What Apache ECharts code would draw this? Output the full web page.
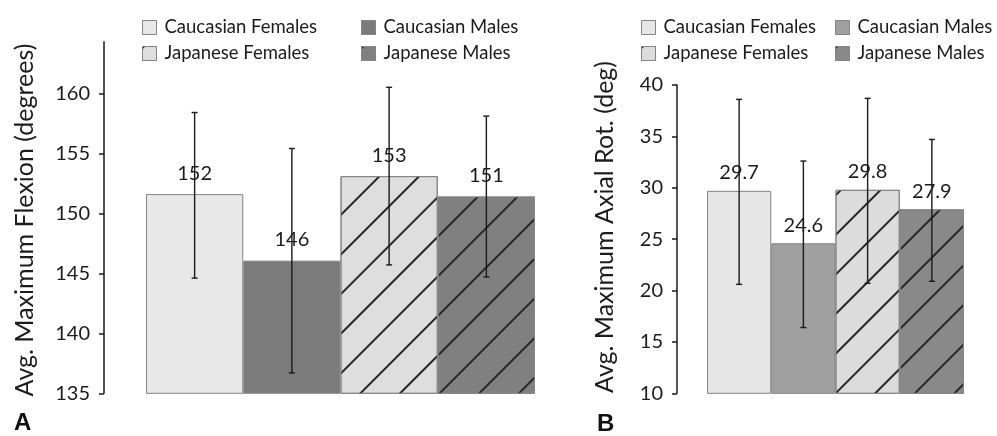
<!DOCTYPE html>
<html><head><meta charset="utf-8">
<script src="https://cdn.jsdelivr.net/npm/echarts@6/dist/echarts.min.js"></script>
<style>html,body{margin:0;padding:0;background:#fff}#c{width:997px;height:436px}</style>
</head><body><div id="c"></div>
<script>
const categories = ['Caucasian Females', 'Caucasian Males', 'Japanese Females', 'Japanese Males'];
// Panel A: flexion (degrees)
const flexMean = [151.6, 146.05, 153.1, 151.4];
const flexLow  = [144.6, 136.7, 145.7, 144.7];
const flexHigh = [158.4, 155.4, 160.5, 158.1];
// Panel B: axial rotation (deg)
const rotMean = [29.7, 24.6, 29.8, 27.9];
const rotLow  = [20.6, 16.4, 20.7, 20.9];
const rotHigh = [38.6, 32.6, 38.7, 34.7];
const flexTicks = [135, 140, 145, 150, 155, 160];
const rotTicks = [10, 15, 20, 25, 30, 35, 40];

const FONT = 'Lato';
const TXT = '#1c1c1c';
const hatch = {symbol: 'rect', symbolSize: 1, dashArrayX: [1, 0], dashArrayY: [2, 26], rotation: -Math.PI / 4, color: '#262626'};
const colorsA = ['#e8e8e8', '#7b7b7b', '#dedede', '#808080'];
const colorsB = ['#e6e6e6', '#a0a0a0', '#dcdcdc', '#898989'];
const hatched = [false, false, true, true];

function styleFor(colors, i) {
  const s = {color: colors[i], borderColor: '#858585', borderWidth: 1};
  if (hatched[i]) s.decal = hatch;
  return s;
}

function barSeries(gi, means, colors, fmt, labelDist) {
  return categories.map((name, i) => ({
    name: name, type: 'bar', xAxisIndex: gi, yAxisIndex: gi,
    barGap: '-100%', barCategoryGap: 0,
    data: means.map((v, j) => j === i ? v : '-'),
    itemStyle: styleFor(colors, i),
    label: {show: true, position: 'top', distance: labelDist, fontFamily: FONT, fontSize: 20, color: TXT,
            formatter: p => fmt(p.value)},
    emphasis: {disabled: true}, animation: false
  }));
}

function errSeries(gi, low, high) {
  return {
    type: 'custom', xAxisIndex: gi, yAxisIndex: gi, z: 5, animation: false, silent: true,
    data: categories.map((c, i) => [i, low[i], high[i]]),
    encode: {x: 0, y: [1, 2]},
    renderItem: (params, api) => {
      const lo = api.coord([api.value(0), api.value(1)]);
      const hi = api.coord([api.value(0), api.value(2)]);
      const st = {stroke: '#1a1a1a', lineWidth: 1.4};
      return {type: 'group', children: [
        {type: 'line', shape: {x1: lo[0], y1: lo[1], x2: hi[0], y2: hi[1]}, style: st},
        {type: 'line', shape: {x1: lo[0] - 3, y1: lo[1], x2: lo[0] + 3, y2: lo[1]}, style: st},
        {type: 'line', shape: {x1: hi[0] - 3, y1: hi[1], x2: hi[0] + 3, y2: hi[1]}, style: st}
      ]};
    }
  };
}

function legendItem(name, colors, i, left, top) {
  return {
    left: left, top: top, icon: 'rect', itemWidth: 14, itemHeight: 14,
    selectedMode: false,
    textStyle: {fontFamily: FONT, fontSize: 18.5, color: TXT, padding: [0, 0, 0, 3]},
    data: [{name: name, itemStyle: styleFor(colors, i)}]
  };
}

function yAxis(gi, min, max, offset, ticks) {
  return {
    type: 'value', gridIndex: gi, min: min, max: max, interval: 5, offset: offset,
    axisLine: {show: true, lineStyle: {color: '#1a1a1a', width: 1.5}},
    axisTick: {show: true, length: 5, customValues: ticks, lineStyle: {color: '#1a1a1a', width: 1.5}},
    axisLabel: {margin: 14, customValues: ticks, fontFamily: FONT, fontSize: 20, color: TXT},
    splitLine: {show: false}
  };
}

const option = {
  backgroundColor: '#fff',
  animation: false,
  grid: [
    {left: 146, width: 389, top: 41.7, height: 351.6},
    {left: 707, width: 257, top: 85, height: 308.3}
  ],
  xAxis: [
    {type: 'category', gridIndex: 0, data: categories, show: false},
    {type: 'category', gridIndex: 1, data: categories, show: false}
  ],
  yAxis: [yAxis(0, flexTicks[0], 164.3, 42, flexTicks),
          yAxis(1, rotTicks[0], rotTicks[rotTicks.length - 1], 30, rotTicks)],
  legend: [
    legendItem(categories[0], colorsA, 0, 137, 13),
    legendItem(categories[1], colorsA, 1, 356, 13),
    legendItem(categories[2], colorsA, 2, 137, 39),
    legendItem(categories[3], colorsA, 3, 356, 39),
    legendItem(categories[0], colorsB, 0, 636, 13),
    legendItem(categories[1], colorsB, 1, 830, 13),
    legendItem(categories[2], colorsB, 2, 636, 39),
    legendItem(categories[3], colorsB, 3, 830, 39)
  ],
  graphic: [
    {type: 'text', x: 25, y: 220, rotation: Math.PI / 2,
     style: {text: 'Avg. Maximum Flexion (degrees)', fontFamily: FONT, fontSize: 25, fill: TXT, align: 'center', verticalAlign: 'middle'}},
    {type: 'text', x: 605, y: 227, rotation: Math.PI / 2,
     style: {text: 'Avg. Maximum Axial Rot. (deg)', fontFamily: FONT, fontSize: 25, fill: TXT, align: 'center', verticalAlign: 'middle'}},
    {type: 'text', x: 14, y: 411, style: {text: 'A', fontFamily: 'Liberation Sans', fontWeight: 'bold', fontSize: 24, fill: '#111'}},
    {type: 'text', x: 597, y: 412, style: {text: 'B', fontFamily: 'Liberation Sans', fontWeight: 'bold', fontSize: 24, fill: '#111'}}
  ],
  series: [].concat(
    barSeries(0, flexMean, colorsA, v => String(Math.round(v)), 11),
    [errSeries(0, flexLow, flexHigh)],
    barSeries(1, rotMean, colorsB, v => v.toFixed(1), 8),
    [errSeries(1, rotLow, rotHigh)]
  )
};
const chart = echarts.init(document.getElementById('c'), null, {renderer: 'canvas'});
chart.setOption(option);
</script></body></html>
